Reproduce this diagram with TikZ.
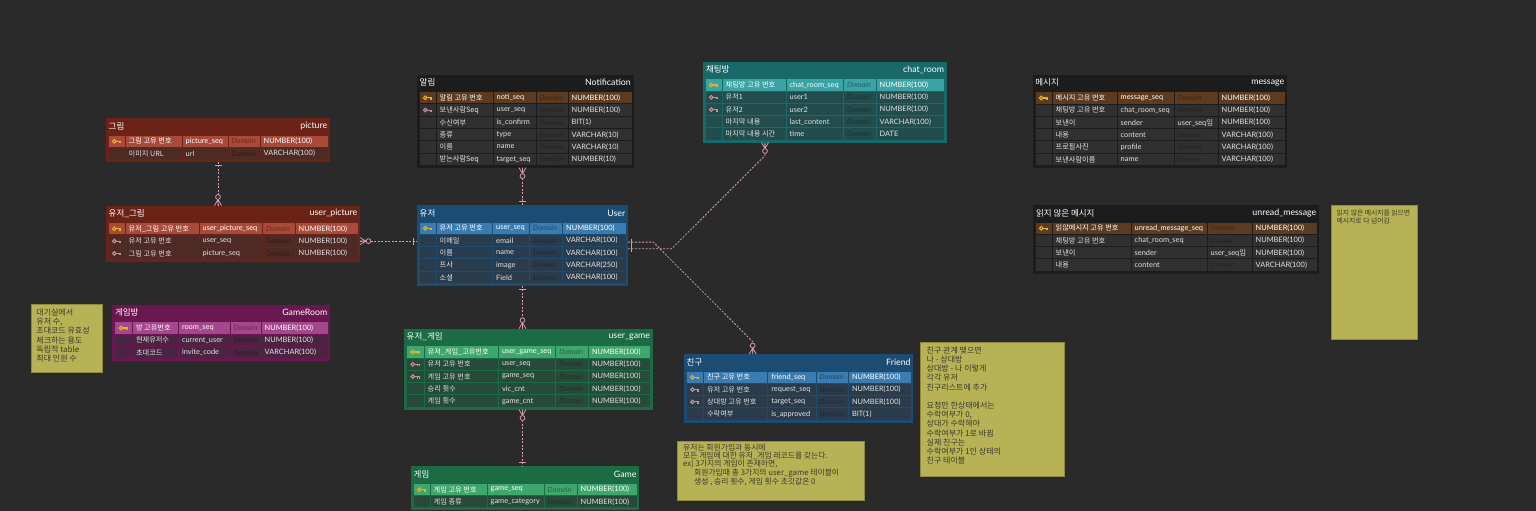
\documentclass[tikz,border=0pt]{standalone}
\usepackage{fontspec}
\setmainfont{Noto Sans CJK KR}
\newfontfamily\latof{Lato}
\usetikzlibrary{decorations.markings}
\definecolor{bg}{HTML}{2A2A2A}
\definecolor{relpink}{HTML}{D99AAB}
\definecolor{rowgray}{HTML}{E2E2E2}
\definecolor{keyyellow}{HTML}{E6B422}
\definecolor{keypink}{HTML}{C88F98}
\definecolor{notefill}{HTML}{B7B255}
\definecolor{notedraw}{HTML}{8E8A3C}
\definecolor{notetext}{HTML}{3A3A2E}
% red
\definecolor{redhdr}{HTML}{6B2318}\definecolor{redpk}{HTML}{A84A3A}\definecolor{rednr}{HTML}{4E2A24}
\definecolor{redpkdom}{HTML}{6E2A1E}\definecolor{rednrdom}{HTML}{351A16}
% black
\definecolor{blkhdr}{HTML}{1C1C1C}\definecolor{blkpk}{HTML}{5C3B20}\definecolor{blknr}{HTML}{303030}
\definecolor{blkpkdom}{HTML}{3E2614}\definecolor{blknrdom}{HTML}{222222}
% teal
\definecolor{tealhdr}{HTML}{17696A}\definecolor{tealpk}{HTML}{3BA3A3}\definecolor{tealnr}{HTML}{234C4C}
\definecolor{tealpkdom}{HTML}{1F6262}\definecolor{tealnrdom}{HTML}{173434}
% blue
\definecolor{bluhdr}{HTML}{1B4C74}\definecolor{blupk}{HTML}{3A7BB0}\definecolor{blunr}{HTML}{2A3C4C}
\definecolor{blupkdom}{HTML}{21496A}\definecolor{blunrdom}{HTML}{1C2834}
% purple
\definecolor{purhdr}{HTML}{6A1650}\definecolor{purpk}{HTML}{A4478C}\definecolor{purnr}{HTML}{4A2541}
\definecolor{purpkdom}{HTML}{652A56}\definecolor{purnrdom}{HTML}{33192C}
% green
\definecolor{grnhdr}{HTML}{1B6B44}\definecolor{grnpk}{HTML}{3FA66E}\definecolor{grnnr}{HTML}{274A3A}
\definecolor{grnpkdom}{HTML}{266443}\definecolor{grnnrdom}{HTML}{1A3328}

\tikzset{
  frame/.style={rectangle, inner sep=0pt, outer sep=0pt, draw=none},
  hdrtxt/.style={text=white, font=\fontsize{8.5}{10}\selectfont, inner sep=0pt},
  hdrlat/.style={text=white, font=\latof\fontsize{8.8}{10}\selectfont, inner sep=0pt},
  rowtxtpk/.style={text=white, font=\fontsize{7.2}{8}\selectfont, inner sep=0pt},
  rowtxtnr/.style={text=rowgray, font=\fontsize{7.2}{8}\selectfont, inner sep=0pt},
  rowlatpk/.style={text=white, font=\latof\fontsize{7.4}{8}\selectfont, inner sep=0pt},
  rowlatnr/.style={text=rowgray, font=\latof\fontsize{7.4}{8}\selectfont, inner sep=0pt},
  domtxt/.style={font=\latof\itshape\fontsize{7.2}{8}\selectfont, inner sep=0pt},
  note/.style={rectangle, fill=notefill, draw=notedraw, line width=0.6pt, inner sep=0pt, outer sep=0pt},
  notetxt/.style={text=notetext, align=left, inner sep=0pt},
  pkkey/.pic={\draw[keyyellow, line width=1.1pt] (-2.2,0) circle (1.8);
              \draw[keyyellow, line width=1.1pt] (-0.4,0) -- (4.6,0) (2.6,0) -- (2.6,1.9) (4.2,0) -- (4.2,1.9);},
  fkkey/.pic={\draw[keypink, line width=1.1pt] (-2.2,0) circle (1.8);
              \draw[keypink, line width=1.1pt] (-0.4,0) -- (4.6,0) (2.6,0) -- (2.6,1.9) (4.2,0) -- (4.2,1.9);},
  nokey/.pic={},
  rel/.style={draw=relpink, dash pattern=on 2pt off 1.5pt, line width=0.8pt},
  mk/.style={draw=relpink, solid, line width=0.8pt},
  onestart/.style={postaction={decorate,decoration={markings,
      mark=at position 3.5pt with {\draw[mk] (0,-3.5) -- (0,3.5);}}}},
  oneend/.style={postaction={decorate,decoration={markings,
      mark=at position 1 with {\draw[mk] (-3.5,-3.5) -- (-3.5,3.5);}}}},
  manyend/.style={postaction={decorate,decoration={markings,
      mark=at position 1 with {\draw[mk] (-6,0) -- (0,-3.5) (-6,0) -- (0,0) (-6,0) -- (0,3.5);
                               \draw[mk, fill=bg] (-8.5,0) circle (2.4);}}}},
  manystart/.style={postaction={decorate,decoration={markings,
      mark=at position 0 with {\draw[mk] (6,0) -- (0,-3.5) (6,0) -- (0,0) (6,0) -- (0,3.5);
                               \draw[mk, fill=bg] (8.5,0) circle (2.4);}}}},
}

\newcommand\setcols[6]{\def\ca{#1}\def\cb{#2}\def\cc{#3}\def\cd{#4}\def\ce{#5}\def\cf{#6}}
\newcommand\ertable[8]{%
  \def\curtab{#1}\def\curtop{#3}\def\curpre{#6}%
  \pgfmathsetmacro\tabh{19.3+#5*12.3}%
  \pgfmathsetmacro\tabw{#4-#2}%
  \node[frame, fill=#6hdr, minimum width=\tabw, minimum height=\tabh, anchor=north west] (#1) at (#2,#3) {};
  \node[hdrtxt, anchor=west] (#1-kt) at (#2+2.5,#3+8) {#7};
  \node[hdrlat, anchor=east] (#1-et) at (#4-2.5,#3+8) {#8};
}
\newcommand\erow[7]{%
  \pgfmathsetmacro\ertop{\curtop+17+(#1-1)*12.3}%
  \pgfmathsetmacro\erbot{\ertop+12.3}%
  \pgfmathsetmacro\ermid{\ertop+6.3}%
  \foreach \xa/\xb in {\ca/\cb,\cb/\cc,\cc/\cd,\cd/\ce,\ce/\cf}{%
    \fill[fill=\curpre#2] (\xa+0.5,\ertop+0.5) rectangle (\xb-0.5,\erbot-0.5);}
  \pic at ({(\ca+\cb)/2},\ermid) {#3};
  \node[rowtxt#2, anchor=west] (\curtab-r#1-k) at (\cb+3.5,\ermid) {#4};
  \node[rowlat#2, anchor=west] (\curtab-r#1-c) at (\cc+3.5,\ermid) {#5};
  \node[domtxt, text=\curpre#2dom, anchor=west] (\curtab-r#1-d) at (\cd+3.5,\ermid) {#6};
  \node[rowlat#2, anchor=west] (\curtab-r#1-t) at (\ce+3.5,\ermid) {#7};
  \coordinate (\curtab-r#1) at (\cf,\ermid);
}
\newcommand\usq[1]{{\upshape\fontsize{7.4}{8}\selectfont\color{rowgray}#1}}

\begin{document}
\begin{tikzpicture}[x=1pt,y=-1pt]
\fill[bg] (0,0) rectangle (1536,511);
\useasboundingbox (0,0) rectangle (1536,511);

% ---------- picture
\ertable{picture}{106}{118}{330}{2}{red}{그림}{picture}
\setcols{108}{125}{182}{228}{260}{328}
\erow{1}{pk}{pkkey}{그림 고유 번호}{picture\_seq}{Domain}{NUMBER(100)}
\erow{2}{nr}{nokey}{이미지 URL}{url}{Domain}{VARCHAR(100)}

% ---------- user_picture
\ertable{userpicture}{106}{205.5}{360}{3}{red}{유저\_그림}{user\_picture}
\setcols{108}{125}{199}{262.5}{295}{358}
\erow{1}{pk}{pkkey}{유저\_그림 고유 번호}{user\_picture\_seq}{Domain}{NUMBER(100)}
\erow{2}{nr}{fkkey}{유저 고유 번호}{user\_seq}{Domain}{NUMBER(100)}
\erow{3}{nr}{fkkey}{그림 고유 번호}{picture\_seq}{Domain}{NUMBER(100)}

% ---------- Notification
\ertable{noti}{417}{74.5}{633.5}{6}{blk}{알림}{Notification}
\setcols{419}{436}{493}{536}{568}{632}
\erow{1}{pk}{pkkey}{알림 고유 번호}{noti\_seq}{Domain}{NUMBER(100)}
\erow{2}{nr}{fkkey}{보낸사람Seq}{user\_seq}{Domain}{NUMBER(100)}
\erow{3}{nr}{nokey}{수신여부}{is\_confirm}{Domain}{BIT(1)}
\erow{4}{nr}{nokey}{종류}{type}{Domain}{VARCHAR(10)}
\erow{5}{nr}{nokey}{이름}{name}{Domain}{VARCHAR(10)}
\erow{6}{nr}{nokey}{받는사람Seq}{target\_seq}{Domain}{NUMBER(10)}

% ---------- chat_room
\ertable{chatroom}{703.3}{61.7}{946.7}{5}{teal}{채팅방}{chat\_room}
\setcols{705}{722}{786}{843.5}{876}{944.5}
\erow{1}{pk}{pkkey}{채팅방 고유 번호}{chat\_room\_seq}{Domain}{NUMBER(100)}
\erow{2}{nr}{fkkey}{유저1}{user1}{Domain}{NUMBER(100)}
\erow{3}{nr}{fkkey}{유저2}{user2}{Domain}{NUMBER(100)}
\erow{4}{nr}{nokey}{마지막 내용}{last\_content}{Domain}{VARCHAR(100)}
\erow{5}{nr}{nokey}{마지막 내용 시간}{time}{Domain}{DATE}

% ---------- message
\ertable{message}{1032.7}{74.7}{1287}{6}{blk}{메시지}{message}
\setcols{1035}{1052}{1117}{1174}{1218}{1285}
\erow{1}{pk}{pkkey}{메시지 고유 번호}{message\_seq}{Domain}{NUMBER(100)}
\erow{2}{nr}{nokey}{채팅방 고유 번호}{chat\_room\_seq}{Domain}{NUMBER(100)}
\erow{3}{nr}{nokey}{보낸이}{sender}{\usq{user\_seq{\normalfont 임}}}{NUMBER(100)}
\erow{4}{nr}{nokey}{내용}{content}{Domain}{VARCHAR(100)}
\erow{5}{nr}{nokey}{프로필사진}{profile}{Domain}{VARCHAR(100)}
\erow{6}{nr}{nokey}{보낸사람이름}{name}{Domain}{VARCHAR(100)}

% ---------- unread_message
\ertable{unread}{1033.3}{205}{1319}{4}{blk}{읽지 않은 메시지}{unread\_message}
\setcols{1035}{1052}{1131}{1207}{1252}{1317}
\erow{1}{pk}{pkkey}{읽않메시지 고유 번호}{unread\_message\_seq}{Domain}{NUMBER(100)}
\erow{2}{nr}{nokey}{채팅방 고유 번호}{chat\_room\_seq}{Domain}{NUMBER(100)}
\erow{3}{nr}{nokey}{보낸이}{sender}{\usq{user\_seq{\normalfont 임}}}{NUMBER(100)}
\erow{4}{nr}{nokey}{내용}{content}{Domain}{VARCHAR(100)}

% ---------- User
\ertable{user}{417}{205}{628}{5}{blu}{유저}{User}
\setcols{419}{436}{492.5}{529.5}{562.5}{626}
\erow{1}{pk}{pkkey}{유저 고유 번호}{user\_seq}{Domain}{NUMBER(100)}
\erow{2}{nr}{nokey}{이메일}{email}{Domain}{VARCHAR(100)}
\erow{3}{nr}{nokey}{이름}{name}{Domain}{VARCHAR(100)}
\erow{4}{nr}{nokey}{프사}{image}{Domain}{VARCHAR(250)}
\erow{5}{nr}{nokey}{소셜}{Field}{Domain}{VARCHAR(100)}

% ---------- GameRoom
\ertable{gameroom}{112.3}{304.7}{330}{3}{pur}{게임방}{GameRoom}
\setcols{114}{132.3}{178.3}{230}{261}{328.3}
\erow{1}{pk}{pkkey}{방 고유번호}{room\_seq}{Domain}{NUMBER(100)}
\erow{2}{nr}{nokey}{현재유저수}{current\_user}{Domain}{NUMBER(100)}
\erow{3}{nr}{nokey}{초대코드}{invite\_code}{Domain}{VARCHAR(100)}

% ---------- user_game
\ertable{usergame}{404}{328.7}{652.7}{5}{grn}{유저\_게임}{user\_game}
\setcols{406}{424}{498.3}{555.7}{588.3}{650.7}
\erow{1}{pk}{pkkey}{유저\_게임\_고유번호}{user\_game\_seq}{Domain}{NUMBER(100)}
\erow{2}{nr}{fkkey}{유저 고유 번호}{user\_seq}{Domain}{NUMBER(100)}
\erow{3}{nr}{fkkey}{게임 고유 번호}{game\_seq}{Domain}{NUMBER(100)}
\erow{4}{nr}{nokey}{승리 횟수}{vic\_cnt}{Domain}{NUMBER(100)}
\erow{5}{nr}{nokey}{게임 횟수}{game\_cnt}{Domain}{NUMBER(100)}

% ---------- Friend
\ertable{friend}{684}{354}{913.3}{4}{blu}{친구}{Friend}
\setcols{686}{703.3}{767.7}{816}{848.3}{911.5}
\erow{1}{pk}{pkkey}{친구 고유 번호}{friend\_seq}{Domain}{NUMBER(100)}
\erow{2}{nr}{fkkey}{유저 고유 번호}{request\_seq}{Domain}{NUMBER(100)}
\erow{3}{nr}{fkkey}{상대방 고유 번호}{target\_seq}{Domain}{NUMBER(100)}
\erow{4}{nr}{nokey}{수락여부}{is\_approved}{Domain}{BIT(1)}

% ---------- Game
\ertable{game}{411}{466.3}{639.3}{2}{grn}{게임}{Game}
\setcols{413}{430}{487}{544}{577}{637.5}
\erow{1}{pk}{pkkey}{게임 고유 번호}{game\_seq}{Domain}{NUMBER(100)}
\erow{2}{nr}{nokey}{게임 종류}{game\_category}{Domain}{NUMBER(100)}

% ---------- notes
\node[note, minimum width=71.3, minimum height=67.3, anchor=north west] (noteroom) at (31,304.7) {};
\node[notetxt, anchor=north west, font=\fontsize{8}{9.3}\selectfont] (noteroom-t) at (36.2,308.5)
  {대기실에서\\유저 수,\\초대코드 유효성\\체크하는 용도\\독립적 table\\최대 인원 수};

\node[note, minimum width=86, minimum height=134, anchor=north west] (noteunread) at (1331,205) {};
\node[notetxt, anchor=north west, font=\fontsize{6.8}{8.2}\selectfont] (noteunread-t) at (1336.5,209.5)
  {읽지 않은 메시지를 읽으면\\메시지로 다 넘어감.};

\node[note, minimum width=144.3, minimum height=134.3, anchor=north west] (notefriend) at (920,342) {};
\node[notetxt, anchor=north west, font=\fontsize{8}{9.2}\selectfont] (notefriend-t) at (926.5,346.5)
  {친구 관계 맺으면\\나 - 상대방\\상대방 - 나 이렇게\\각각 유저\\친구리스트에 추가\\[9.2pt]요청만 한상태에서는\\수락여부가 0,\\상대가 수락해야\\수락여부가 1로 바뀜\\실제 친구는\\수락여부가 1인 상태의\\친구 테이블};

\node[note, minimum width=187, minimum height=59, anchor=north west] (notegame) at (677,441) {};
\node[notetxt, anchor=north west, font=\fontsize{7.8}{7.7}\selectfont] (notegame-t) at (683,444.3)
  {유저는 회원가입과 동시에\\모든 게임에 대한 유저\_게임 레코드를 갖는다.\\ex) 3가지의 게임이 존재하면,\\\hspace*{11pt}회원가입때 총 3가지의 user\_game 테이블이\\\hspace*{11pt}생성 , 승리 횟수, 게임 횟수 초깃값은 0};

% ---------- relationships
\draw[rel, onestart, manyend] (picture.south) -- (picture.south |- userpicture.north);
\draw[rel, manystart, oneend] (userpicture-r2 -| userpicture.east) -- (userpicture-r2 -| user.west);
\draw[rel, manystart, oneend] (user.north |- noti.south) -- (user.north);
\draw[rel, onestart, manyend] (user.south) -- (user.south |- usergame.north);
\draw[rel, manystart, oneend] (user.south |- usergame.south) -- (user.south |- game.north);
\draw[rel, onestart, manyend] ([yshift=-3.3pt]user.east) -- ++(43.7,0)
   -- ([xshift=61.7pt,yshift=-13pt]chatroom.south west) -- ([xshift=61.7pt]chatroom.south west);
\draw[rel, onestart, manyend] ([yshift=3.3pt]user.east) -- ++(25.3,0)
   -- ([xshift=68.7pt,yshift=12.3pt]friend.north west) -- ([xshift=68.7pt]friend.north west);
\end{tikzpicture}
\end{document}
